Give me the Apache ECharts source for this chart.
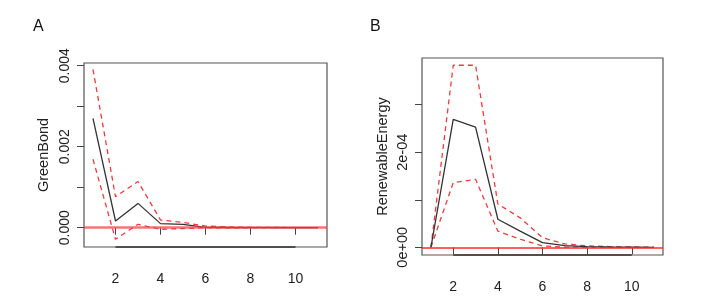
<!DOCTYPE html>
<html>
<head>
<meta charset="utf-8">
<script src="https://cdn.jsdelivr.net/npm/echarts@6/dist/echarts.min.js"></script>
<style>
html,body{margin:0;padding:0;background:#fff;}
#chart{width:728px;height:307px;}
</style>
</head>
<body>
<div id="chart"></div>
<script>
// ---- data ----
var steps = [1, 2, 3, 4, 5, 6, 7, 8, 9, 10, 11];
var xTickValues = [2, 4, 6, 8, 10];

// Panel A: GreenBond
var gbIrf   = [0.00270, 0.000165, 0.00060, 0.00010, 0.000084, 0.00001, 0.000005, 0.000002, 0.000001, 0, 0];
var gbUpper = [0.00391, 0.000765, 0.00114, 0.00019, 0.00013, 0.00004, 0.00002, 0.00001, 0.000005, 0.000003, 0.000002];
var gbLower = [0.00169, -0.000287, 0.000084, -0.00004, -0.00002, 0.0, -0.000005, 0, 0, 0, 0];
var gbTicks = [0, 0.001, 0.002, 0.003, 0.004];
var gbLabels = [0, 0.002, 0.004];
var gbMin = -0.000477, gbMax = 0.004067;

// Panel B: RenewableEnergy
var reIrf   = [0, 2.69e-4, 2.53e-4, 0.59e-4, 0.34e-4, 0.097e-4, 0.035e-4, 0.015e-4, 0.006e-4, 0.002e-4, 0];
var reUpper = [0, 3.83e-4, 3.83e-4, 0.91e-4, 0.62e-4, 0.20e-4, 0.07e-4, 0.03e-4, 0.015e-4, 0.007e-4, 0.003e-4];
var reLower = [0, 1.36e-4, 1.43e-4, 0.34e-4, 0.17e-4, 0.03e-4, 0.005e-4, 0, 0, 0, 0];
var reTicks = [0, 1e-4, 2e-4, 3e-4];
var reLabels = [0, 2e-4];
var reMin = -0.162e-4, reMax = 3.983e-4;

function pairs(xs, ys){ return xs.map(function(x,i){ return [x, ys[i]]; }); }

var black = '#333333';
var red = '#ef3b3b';
var axisFont = 'Liberation Sans, Arial, sans-serif';
var narrowFont = 'Liberation Sans Narrow, Liberation Sans, Arial, sans-serif';

function xAxisFor(gi){
  return {
    type: 'value', gridIndex: gi, min: 0.6, max: 11.4,
    splitLine: {show: false},
    axisLine: {show: false},
    axisTick: {show: true, length: 7, inside: false, customValues: xTickValues, lineStyle: {color: '#444', width: 1}},
    axisLabel: {show: true, customValues: xTickValues, margin: 25, color: '#222', fontFamily: narrowFont, fontSize: 14}
  };
}
function yAxisFor(gi, min, max, ticks, labels, fmt, name, fs, gap){
  return {
    type: 'value', gridIndex: gi, min: min, max: max,
    splitLine: {show: false},
    axisLine: {show: false},
    axisTick: {show: true, length: 7, inside: false, customValues: ticks, lineStyle: {color: '#444', width: 1}},
    axisLabel: {show: true, customValues: labels, rotate: 90, margin: 12, color: '#222', fontFamily: axisFont, fontSize: fs, formatter: fmt},
    name: name, nameLocation: 'middle', nameRotate: 90, nameGap: gap,
    nameTextStyle: {color: '#222', fontFamily: axisFont, fontSize: 14.5}
  };
}
function lineSeries(gi, ys, color, dashed, extra){
  var s = {
    type: 'line', xAxisIndex: gi, yAxisIndex: gi, data: pairs(steps, ys),
    symbol: 'none', silent: true, animation: false,
    lineStyle: {color: color, width: 1.3, type: dashed ? [5, 4] : 'solid'}
  };
  if (extra) s.markLine = extra;
  return s;
}
function zeroAndAxis(color, width, ymin){
  return {
    silent: true, symbol: 'none', label: {show: false},
    data: [
      {yAxis: 0, lineStyle: {color: color, width: width, type: 'solid'}},
      [{coord: [xTickValues[0], ymin], lineStyle: {color: '#333', width: 1.6, type: 'solid'}},
       {coord: [xTickValues[xTickValues.length - 1], ymin]}]
    ]
  };
}

var chart = echarts.init(document.getElementById('chart'), null, {renderer: 'canvas'});
chart.setOption({
  animation: false,
  backgroundColor: '#ffffff',
  title: [
    {text: 'A', left: 28, top: 14, textStyle: {fontFamily: narrowFont, fontSize: 16, fontWeight: 'normal', color: '#111'}},
    {text: 'B', left: 365, top: 14, textStyle: {fontFamily: narrowFont, fontSize: 16, fontWeight: 'normal', color: '#111'}}
  ],
  grid: [
    {left: 84, top: 63, width: 243, height: 184, show: true, borderColor: '#555', borderWidth: 1.2, backgroundColor: 'transparent'},
    {left: 422, top: 58, width: 241, height: 197, show: true, borderColor: '#555', borderWidth: 1.2, backgroundColor: 'transparent'}
  ],
  xAxis: [xAxisFor(0), xAxisFor(1)],
  yAxis: [
    yAxisFor(0, gbMin, gbMax, gbTicks, gbLabels, function(v){ return v.toFixed(3); }, 'GreenBond', 14, 33),
    yAxisFor(1, reMin, reMax, reTicks, reLabels, function(v){ return Math.abs(v) < 1e-12 ? '0e+00' : '2e-04'; }, 'RenewableEnergy', 14.5, 32)
  ],
  series: [
    lineSeries(0, gbUpper, red, true),
    lineSeries(0, gbLower, red, true),
    lineSeries(0, gbIrf, black, false, zeroAndAxis('rgba(240,70,70,0.75)', 2.5, gbMin)),
    lineSeries(1, reUpper, red, true),
    lineSeries(1, reLower, red, true),
    lineSeries(1, reIrf, black, false, zeroAndAxis('#ff2a2a', 1.5, reMin))
  ]
});
</script>
</body>
</html>
